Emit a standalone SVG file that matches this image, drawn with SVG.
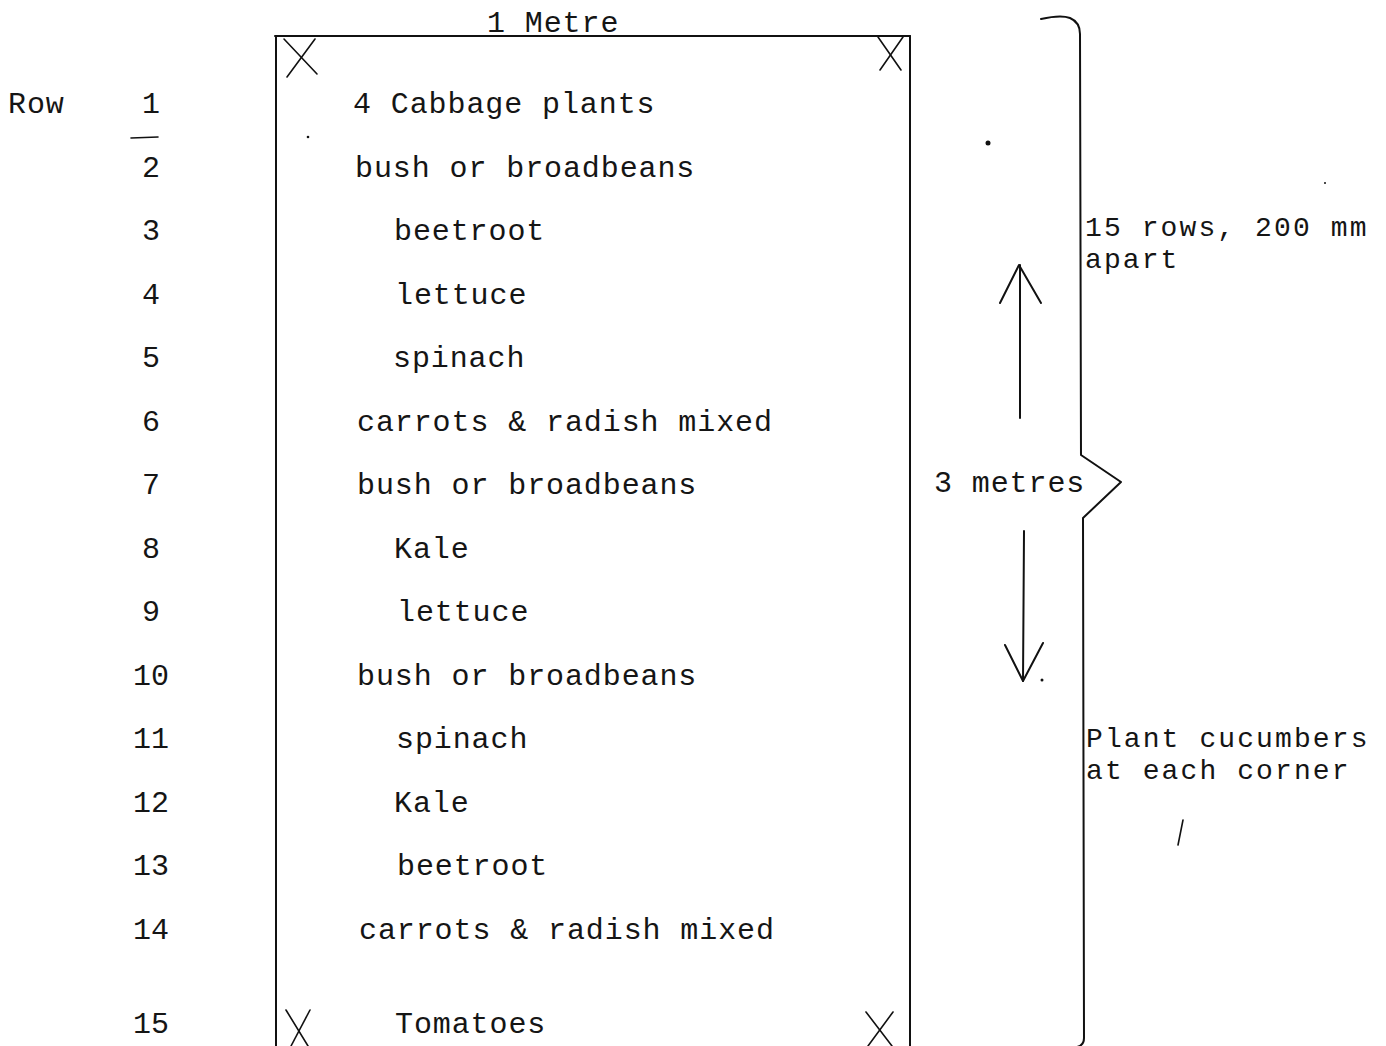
<svg xmlns="http://www.w3.org/2000/svg" width="1386" height="1046" viewBox="0 0 1386 1046">
  <style>
    .t { font-family: "Liberation Mono", "DejaVu Sans Mono", monospace; font-size: 30px; letter-spacing: 0.9px; fill: #151515; }
    .s { font-family: "Liberation Mono", "DejaVu Sans Mono", monospace; font-size: 28px; letter-spacing: 2.1px; fill: #151515; }
    .n { font-family: "Liberation Mono", "DejaVu Sans Mono", monospace; font-size: 30px; fill: #151515; text-anchor: middle; }
    .ln { stroke: #111; stroke-width: 2; fill: none; stroke-linecap: round; stroke-linejoin: round; }
    .thin { stroke: #111; stroke-width: 1.6; fill: none; stroke-linecap: round; }
  </style>
  <rect width="1386" height="1046" fill="#fff"/>

  <g id="plot">
    <line class="ln" x1="275" y1="36" x2="910" y2="36"/>
    <line class="ln" x1="276" y1="36" x2="276" y2="1046"/>
    <line class="ln" x1="910" y1="36" x2="910" y2="1046"/>
    <text class="t" x="487" y="32">1 Metre</text>
  </g>

  <g id="corner-markers">
    <g id="corner-tl">
      <line class="thin" x1="284" y1="39" x2="317" y2="74"/>
      <line class="thin" x1="315" y1="39" x2="287" y2="77"/>
    </g>
    <g id="corner-tr">
      <line class="thin" x1="878" y1="37" x2="901" y2="70"/>
      <line class="thin" x1="903" y1="37" x2="880" y2="70"/>
    </g>
    <g id="corner-bl">
      <line class="thin" x1="286" y1="1010" x2="308" y2="1046"/>
      <line class="thin" x1="310" y1="1010" x2="291" y2="1046"/>
    </g>
    <g id="corner-br">
      <line class="thin" x1="866" y1="1012" x2="892" y2="1046"/>
      <line class="thin" x1="893" y1="1012" x2="868" y2="1046"/>
    </g>
  </g>

  <g id="row-numbers">
    <text class="t" x="8" y="113">Row</text>
    <text class="n" x="151" y="113">1</text>
    <line class="thin" x1="131" y1="138" x2="158" y2="137" stroke-width="1.2"/>
    <text class="n" x="151" y="177">2</text>
    <text class="n" x="151" y="240">3</text>
    <text class="n" x="151" y="304">4</text>
    <text class="n" x="151" y="367">5</text>
    <text class="n" x="151" y="431">6</text>
    <text class="n" x="151" y="494">7</text>
    <text class="n" x="151" y="558">8</text>
    <text class="n" x="151" y="621">9</text>
    <text class="n" x="151" y="685">10</text>
    <text class="n" x="151" y="748">11</text>
    <text class="n" x="151" y="812">12</text>
    <text class="n" x="151" y="875">13</text>
    <text class="n" x="151" y="939">14</text>
    <text class="n" x="151" y="1033">15</text>
  </g>

  <g id="crop-rows">
    <text class="t" x="353" y="113">4 Cabbage plants</text>
    <text class="t" x="355" y="177">bush or broadbeans</text>
    <text class="t" x="394" y="240">beetroot</text>
    <text class="t" x="395" y="304">lettuce</text>
    <text class="t" x="393" y="367">spinach</text>
    <text class="t" x="357" y="431">carrots &amp; radish mixed</text>
    <text class="t" x="357" y="494">bush or broadbeans</text>
    <text class="t" x="394" y="558">Kale</text>
    <text class="t" x="397" y="621">lettuce</text>
    <text class="t" x="357" y="685">bush or broadbeans</text>
    <text class="t" x="396" y="748">spinach</text>
    <text class="t" x="394" y="812">Kale</text>
    <text class="t" x="397" y="875">beetroot</text>
    <text class="t" x="359" y="939">carrots &amp; radish mixed</text>
    <text class="t" x="395" y="1033">Tomatoes</text>
  </g>

  <g id="connectors">
    <g id="arrow-up">
      <line class="ln" x1="1020" y1="418" x2="1020" y2="265"/>
      <polyline class="ln" points="1000,303 1019,265 1041,303"/>
    </g>
    <g id="arrow-down">
      <line class="ln" x1="1024" y1="531" x2="1023" y2="681"/>
      <polyline class="ln" points="1005,645 1023,681 1043,643"/>
    </g>
    <path id="brace" class="ln" d="M1041,19 C1050,17 1062,15 1070,18 C1077,21 1080,26 1080,34 L1081,455 L1121,482 L1083,518 L1084,1038 C1084,1043 1081,1046 1077,1047"/>
  </g>

  <g id="annotations">
    <text class="t" x="934" y="492">3 metres</text>
    <text class="s" x="1085" y="236">15 rows, 200 mm</text>
    <text class="s" x="1085" y="268">apart</text>
    <text class="s" x="1086" y="747">Plant cucumbers</text>
    <text class="s" x="1086" y="779">at each corner</text>
    <line class="thin" x1="1183" y1="820" x2="1178" y2="845"/>
  </g>

  <g id="specks" fill="#111">
    <circle cx="988" cy="143" r="2.5"/>
    <circle cx="308" cy="137" r="1.3"/>
    <circle cx="1042" cy="680" r="1.5"/>
    <circle cx="1325" cy="183" r="1"/>
  </g>
</svg>
